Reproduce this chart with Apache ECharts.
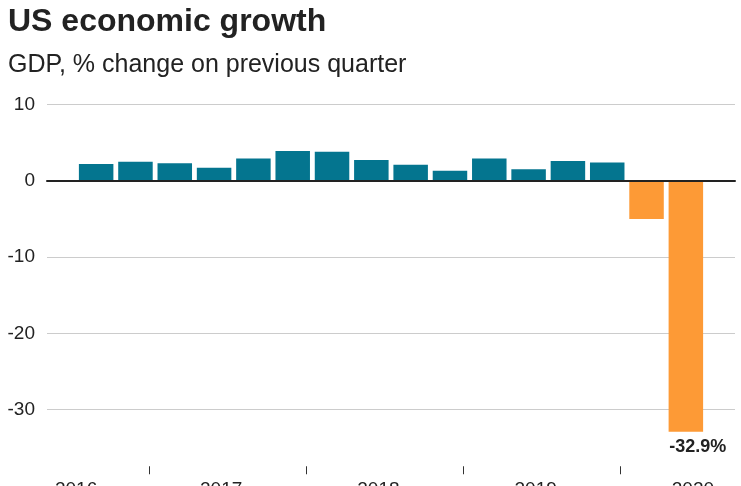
<!DOCTYPE html>
<html>
<head>
<meta charset="utf-8">
<script src="https://cdn.jsdelivr.net/npm/echarts@6/dist/echarts.min.js"></script>
<style>
html,body{margin:0;padding:0;background:#fff;}
#chart{width:741px;height:486px;}
</style>
</head>
<body>
<div id="chart"></div>
<script>
// ---- data ----
const quarters = ['2016 Q3','2016 Q4','2017 Q1','2017 Q2','2017 Q3','2017 Q4','2018 Q1','2018 Q2','2018 Q3','2018 Q4','2019 Q1','2019 Q2','2019 Q3','2019 Q4','2020 Q1','2020 Q2'];
const gdp = [2.2, 2.5, 2.3, 1.7, 2.9, 3.9, 3.8, 2.7, 2.1, 1.3, 2.9, 1.5, 2.6, 2.4, -5.0, -32.9];
const years = [2016, 2017, 2018, 2019, 2020];
const yTicks = [10, 0, -10, -20, -30];
const titleText = 'US economic growth';
const subtitleText = 'GDP, % change on previous quarter';

// ---- helpers ----
const FONT = "'Liberation Sans', Arial, Helvetica, sans-serif";
const TEAL = '#04758f';
const ORANGE = '#fd9a36';
function qPos(label){
  const [y, q] = label.split(' Q');
  return Number(y) + (Number(q) - 1) / 4 + 0.165;
}
const xs = quarters.map(qPos);
const xMin = xs[0] - 1.25 * 0.25;
const xMax = xs[xs.length - 1] + 1.25 * 0.25;
const tickVals = years.filter(y => y > xMin && y < xMax);
const labelVals = years.map(y => Math.max(y + 0.46, xMin + 0.185));

const data = gdp.map((v, i) => {
  const item = { value: [xs[i], v], itemStyle: { color: v < 0 ? ORANGE : TEAL } };
  if (i === gdp.length - 1) {
    item.label = {
      show: true, position: 'bottom', distance: 6, offset: [12, 0],
      formatter: p => p.value[1].toFixed(1) + '%',
      fontFamily: FONT, fontSize: 18, fontWeight: 'bold', color: '#222'
    };
  }
  return item;
});

const chart = echarts.init(document.getElementById('chart'), null, { renderer: 'canvas' });
chart.setOption({
  animation: false,
  backgroundColor: '#fff',
  title: [
    { text: titleText, left: 3, top: 1, textStyle: { fontFamily: FONT, fontSize: 32, fontWeight: 'bold', color: '#222' } },
    { text: subtitleText, left: 3, top: 48, textStyle: { fontFamily: FONT, fontSize: 25, fontWeight: 'normal', color: '#222' } }
  ],
  grid: [
    { left: 47, right: 6, top: 104.4, height: 383 },
    { left: 47, right: 6, top: 466, height: 1 }
  ],
  xAxis: [
    {
      gridIndex: 0, type: 'value', min: xMin, max: xMax, z: 5,
      axisLine: { show: true, onZero: true, lineStyle: { color: '#222', width: 2 } },
      axisTick: { show: false }, axisLabel: { show: false }, splitLine: { show: false }
    },
    {
      gridIndex: 1, type: 'value', min: xMin, max: xMax, position: 'bottom',
      axisLine: { show: false },
      axisTick: { show: true, customValues: tickVals, length: 8, lineStyle: { color: '#333', width: 1 } },
      axisLabel: {
        show: true, customValues: labelVals, margin: 14,
        formatter: v => String(Math.floor(v)),
        fontFamily: FONT, fontSize: 19, color: '#222'
      },
      splitLine: { show: false }
    }
  ],
  yAxis: [
    {
      gridIndex: 0, type: 'value', min: -40, max: 10, interval: 10,
      axisLine: { show: false }, axisTick: { show: false },
      axisLabel: {
        margin: 12, fontFamily: FONT, fontSize: 19, color: '#222',
        formatter: v => yTicks.includes(v) ? String(v) : ''
      },
      splitLine: { show: true, lineStyle: { color: '#cccccc', width: 1 } }
    },
    { gridIndex: 1, type: 'value', show: false }
  ],
  series: [
    {
      type: 'bar', xAxisIndex: 0, yAxisIndex: 0,
      barWidth: 34.5, data: data
    }
  ]
});
</script>
</body>
</html>
